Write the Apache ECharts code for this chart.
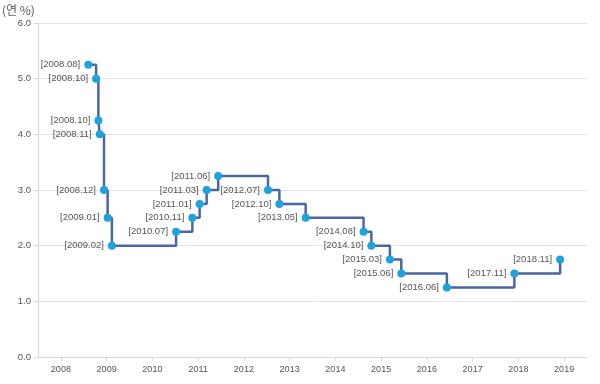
<!DOCTYPE html>
<html><head><meta charset="utf-8">
<script src="https://cdn.jsdelivr.net/npm/echarts@6/dist/echarts.min.js"></script>
<style>html,body{margin:0;padding:0;background:#fff}#c{width:600px;height:384px}</style>
</head><body><div id="c"></div>
<script>
// Decision dates and rates (Korean base rate, % per year)
const dates = ['2008-08-07','2008-10-09','2008-10-27','2008-11-07','2008-12-11','2009-01-09','2009-02-12',
  '2010-07-09','2010-11-16','2011-01-13','2011-03-10','2011-06-10','2012-07-12','2012-10-11','2013-05-09',
  '2014-08-14','2014-10-15','2015-03-12','2015-06-11','2016-06-09','2017-11-30','2018-11-30'];
const labels = ['2008.08','2008.10','2008.10','2008.11','2008.12','2009.01','2009.02',
  '2010.07','2010.11','2011.01','2011.03','2011.06','2012.07','2012.10','2013.05',
  '2014.08','2014.10','2015.03','2015.06','2016.06','2017.11','2018.11'];
const rates = [5.25,5.00,4.25,4.00,3.00,2.50,2.00,2.25,2.50,2.75,3.00,3.25,3.00,2.75,2.50,2.25,2.00,1.75,1.50,1.25,1.50,1.75];
const yearTicks = [2008,2009,2010,2011,2012,2013,2014,2015,2016,2017,2018,2019];

function toYear(s){
  const d = new Date(s + 'T00:00:00Z');
  const y = d.getUTCFullYear();
  const start = Date.UTC(y,0,1), end = Date.UTC(y+1,0,1);
  return y + (d.getTime()-start)/(end-start);
}
const data = dates.map((d,i)=>({value:[toYear(d), rates[i]], label:labels[i]}));

const chart = echarts.init(document.getElementById('c'), null, {renderer:'canvas'});
const font = '"Liberation Sans", "Noto Sans CJK KR", sans-serif';
chart.setOption({
  animation:false,
  grid:{left:38, right:13, top:23, bottom:27, containLabel:false},
  graphic:[{type:'text', left:2, top:4, style:{text:'(연 %)', fill:'#555', font:'12px "Noto Sans CJK KR", sans-serif'}}],
  xAxis:{type:'value', min:2007.5, max:2019.5,
    axisLine:{show:true, lineStyle:{color:'#d8d8d8'}},
    axisTick:{show:true, customValues:yearTicks, length:4, lineStyle:{color:'#d8d8d8'}},
    axisLabel:{customValues:yearTicks, color:'#555', fontSize:9, fontFamily:font, margin:8,
      formatter:v=>String(Math.round(v))},
    splitLine:{show:false}},
  yAxis:{type:'value', min:0, max:6, interval:1,
    axisLine:{show:true, lineStyle:{color:'#d8d8d8'}},
    axisTick:{show:true, length:4, lineStyle:{color:'#d8d8d8'}},
    axisLabel:{color:'#555', fontSize:9.5, fontFamily:font, margin:7, formatter:v=>v.toFixed(1)},
    splitLine:{show:true, lineStyle:{color:'#e3e3e3'}}},
  series:[{
    type:'line', step:'end', data:data,
    symbol:'circle', symbolSize:8,
    itemStyle:{color:'#1ea3de'},
    lineStyle:{color:'#4a66a3', width:2.5},
    label:{show:true, position:'left', distance:4, color:'#555', fontSize:9.5, fontFamily:font,
      formatter:p=>'['+p.data.label+']'}
  }]
});
</script></body></html>
